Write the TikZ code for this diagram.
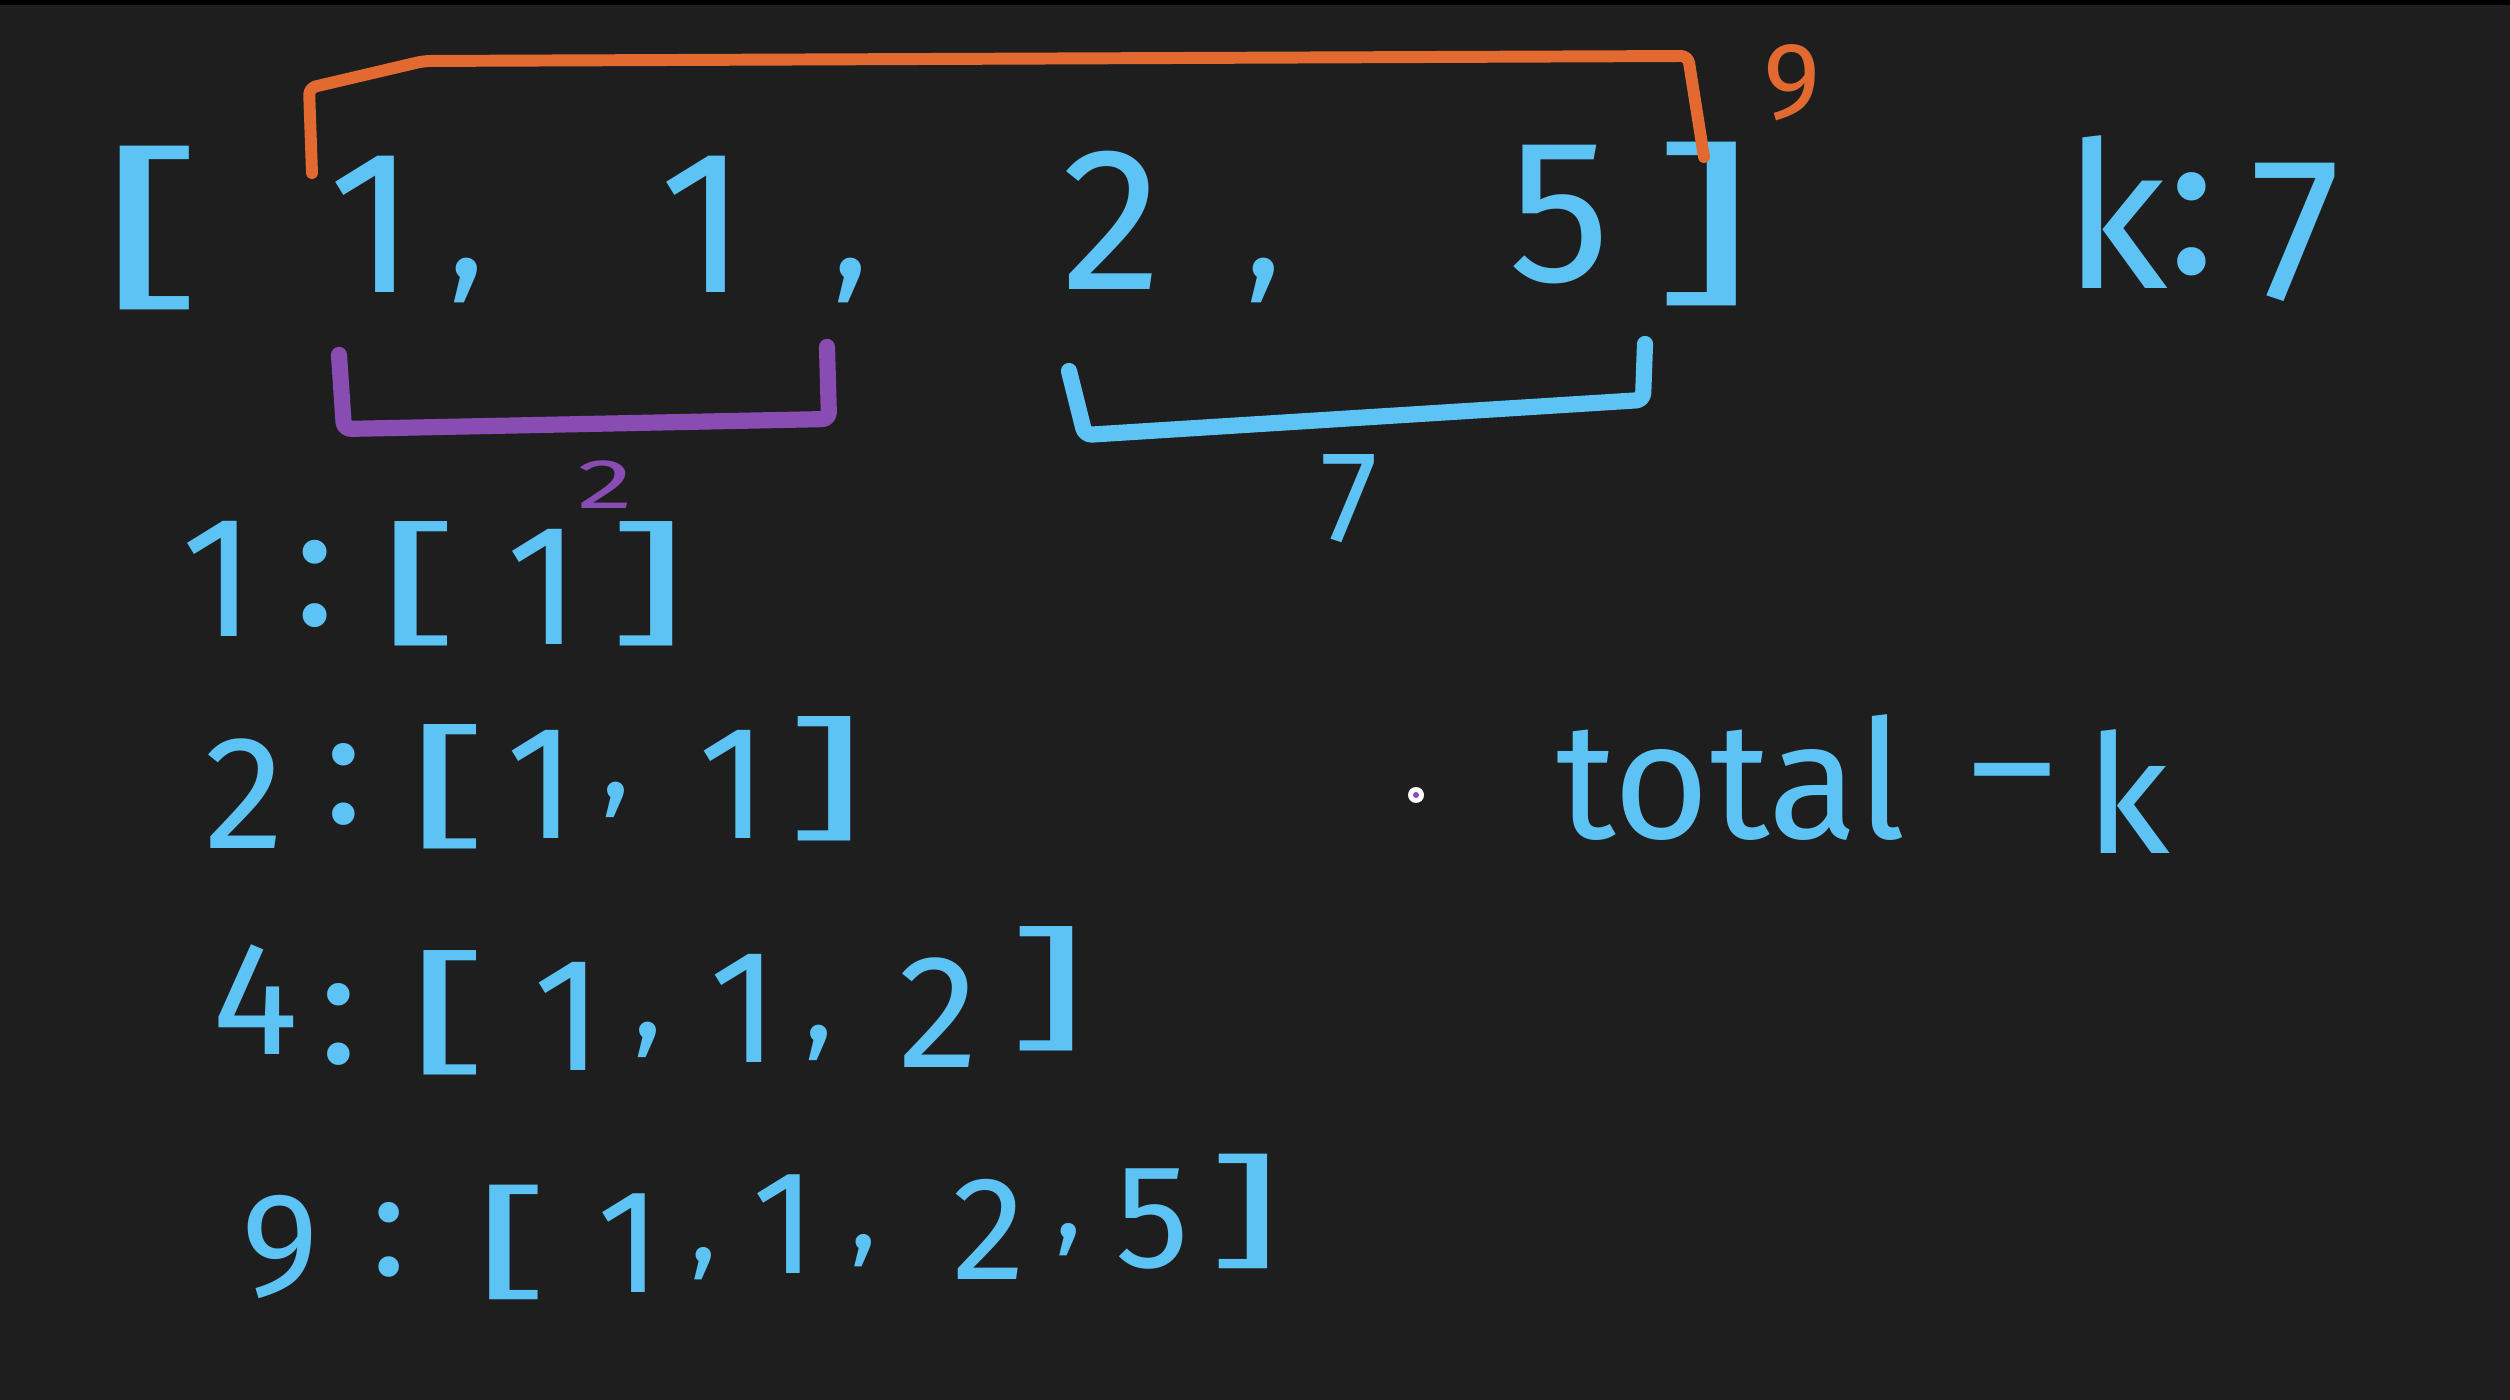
\documentclass[tikz,border=0pt]{standalone}
\usepackage{fontspec}
\setmainfont{Fira Sans}
\definecolor{boardgrey}{RGB}{30,30,30}
\definecolor{chalkblue}{RGB}{93,195,245}
\definecolor{chalkorange}{RGB}{226,106,48}
\definecolor{chalkpurple}{RGB}{137,76,178}

\newcommand{\sqb}[1]{\scalebox{1.9}[1]{#1}}
\newcommand{\tick}{\scalebox{0.75}{,}}

\tikzset{
ink/.style={text=chalkblue, inner sep=0pt},
dig/.style={ink, font=\fontsize{\digsize}{\digsize}\selectfont},
brk/.style={ink, font=\fontsize{\brksize}{\brksize}\selectfont},
pen/.style={line width=\penw, line cap=round, line join=round, rounded corners=2pt},
}

\begin{document}
\begin{tikzpicture}

\def\penw{5pt};
\def\digsize{58};
\def\brksize{50};

\useasboundingbox (0,0) rectangle (25.1,14);
\fill [boardgrey] (0,0) rectangle (25.1,14);
\fill [black] (0,13.95) rectangle (25.1,14);

% the array and k
\node[brk] (T0) at (1.52,11.72) {\sqb{[}};
\foreach \c/\x/\y [count=\i] in {1/3.73/11.76, \tick/4.67/11.2, 1/7.04/11.76, \tick/8.51/11.2, 2/11.12/11.8, \tick/12.64/11.2, 5/15.6/11.85}
{
\node[dig] (T\i) at (\x,\y) {\c};
}
\node[brk] (T8) at (17.04,11.76) {\sqb{]}};

\foreach \c/\x/\y [count=\i] in {k/21.16/11.88, :/21.92/11.76, 7/22.96/11.68}
{
\node[dig] (K\i) at (\x,\y) {\c};
}

% orange bracket over the whole array
\coordinate (O1) at (3.12,12.27);
\coordinate (O2) at (3.09,13.12);
\coordinate (O3) at (4.24,13.39);
\coordinate (O4) at (16.88,13.44);
\coordinate (O5) at (17.04,12.43);
\draw [pen,line width=3.4pt,chalkorange] (O1) -- (O2) -- (O3) -- (O4) -- (O5);
\node[text=chalkorange,inner sep=0pt,font=\fontsize{31}{31}\selectfont] (Osum) at (17.92,13.17) {9};

% purple bracket under the first two
\coordinate (P1) at (3.39,10.45);
\coordinate (P2) at (3.44,9.71);
\coordinate (P3) at (8.29,9.81);
\coordinate (P4) at (8.27,10.53);
\draw [pen,line width=4.6pt,chalkpurple] (P1) -- (P2) -- (P3) -- (P4);
\node[text=chalkpurple,inner sep=0pt,font=\fontsize{20}{20}\selectfont] (Psum) at (6.05,9.15) {\scalebox{1.6}[1]{2}};

% blue bracket under the last two
\coordinate (Q1) at (10.69,10.29);
\coordinate (Q2) at (10.85,9.65);
\coordinate (Q3) at (16.43,10.0);
\coordinate (Q4) at (16.45,10.56);
\draw [pen,line width=4.6pt,chalkblue] (Q1) -- (Q2) -- (Q3) -- (Q4);
\node[dig,font=\fontsize{37}{37}\selectfont] (Qsum) at (13.49,9.01) {7};

% prefix sums
\begin{scope}
\def\digsize{49};
\def\brksize{38};
\foreach \c/\x/\y [count=\i] in {1/2.19/8.21, :/3.15/8.16, 1/5.44/8.13}
{
\node[dig] (A\i) at (\x,\y) {\c};
}
\node[brk] (A4) at (4.19,8.16) {\sqb{[}};
\node[brk] (A5) at (6.48,8.16) {\sqb{]}};
\end{scope}

\begin{scope}
\def\digsize{46};
\def\brksize{38};
\foreach \c/\x/\y [count=\i] in {2/2.45/6.06, :/3.44/6.16, 1/5.41/6.16, \tick/6.16/6.0, 1/7.33/6.16}
{
\node[dig] (B\i) at (\x,\y) {\c};
}
\node[brk] (B6) at (4.48,6.13) {\sqb{[}};
\node[brk] (B7) at (8.26,6.21) {\sqb{]}};
\end{scope}

\begin{scope}
\def\digsize{46};
\def\brksize{38};
\foreach \c/\x/\y [count=\i] in {4/2.56/4.0, :/3.39/3.76, 1/5.68/3.84, \tick/6.48/3.6, 1/7.44/3.92, \tick/8.19/3.57, 2/9.39/3.87}
{
\node[dig] (C\i) at (\x,\y) {\c};
}
\node[brk] (C8) at (4.48,3.87) {\sqb{[}};
\node[brk] (C9) at (10.48,4.11) {\sqb{]}};
\end{scope}

\begin{scope}
\def\digsize{42};
\def\brksize{35};
\foreach \c/\x/\y [count=\i] in {9/2.8/1.53, :/3.89/1.6, 1/6.29/1.57, \tick/7.04/1.36, 1/7.84/1.76, \tick/8.64/1.49, 2/9.89/1.71, \tick/10.69/1.6, 5/11.52/1.81}
{
\node[dig] (D\i) at (\x,\y) {\c};
}
\node[brk] (D10) at (5.12,1.58) {\sqb{[}};
\node[brk] (D11) at (12.45,1.89) {\sqb{]}};
\end{scope}

% total - k
\def\digsize{47};
\node[dig] (tot) at (17.31,6.22) {total};
\node[dig] (minus) at (20.12,6.08) {\textendash};
\node[dig] (kk) at (21.28,6.08) {k};

% pointer
\fill [white] (14.16,6.05) circle [radius=0.08];
\fill [chalkpurple] (14.16,6.05) circle [radius=0.03];

\end{tikzpicture}
\end{document}
